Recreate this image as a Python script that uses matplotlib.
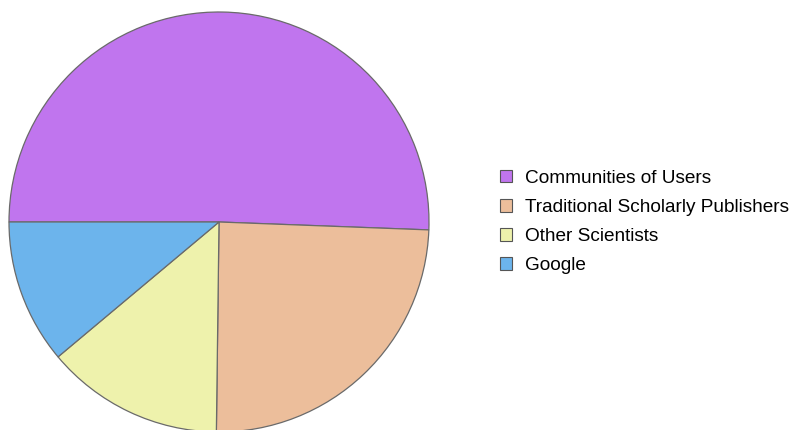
import matplotlib
matplotlib.use("Agg")
import matplotlib.pyplot as plt
from matplotlib.patches import Patch

labels = ["Communities of Users", "Traditional Scholarly Publishers",
          "Other Scientists", "Google"]
values = [50.6, 24.6, 13.7, 11.1]
colors = ["#C075EE", "#ECBE9B", "#EEF2AC", "#6CB4EC"]

W, H = 793, 430
fig = plt.figure(figsize=(W / 100, H / 100), dpi=100)

# pie placed by pixel centre / radius
cx, cy, r = 219, 222, 210
ax = fig.add_axes([(cx - r) / W, (H - cy - r) / H, 2 * r / W, 2 * r / H])
wedges, _ = ax.pie(values, colors=colors, startangle=180, counterclock=False,
                   radius=1.0,
                   wedgeprops=dict(edgecolor="#6a6a6a", linewidth=0.9))
for w in wedges:
    w.set_clip_on(False)
ax.set_xlim(-1, 1)
ax.set_ylim(-1, 1)
ax.set_aspect("auto")
ax.axis("off")

handles = [Patch(facecolor=c, edgecolor="#555555", linewidth=0.8) for c in colors]
leg = fig.legend(handles, labels, loc="upper left",
                 bbox_to_anchor=(500 / W, 1 - 170 / H),
                 frameon=False,
                 prop={"family": "Liberation Sans", "size": 13.65},
                 handlelength=0.62, handleheight=0.62, handletextpad=0.72,
                 labelspacing=0.635, borderaxespad=0, borderpad=0)

fig.savefig("out.png", dpi=100)
